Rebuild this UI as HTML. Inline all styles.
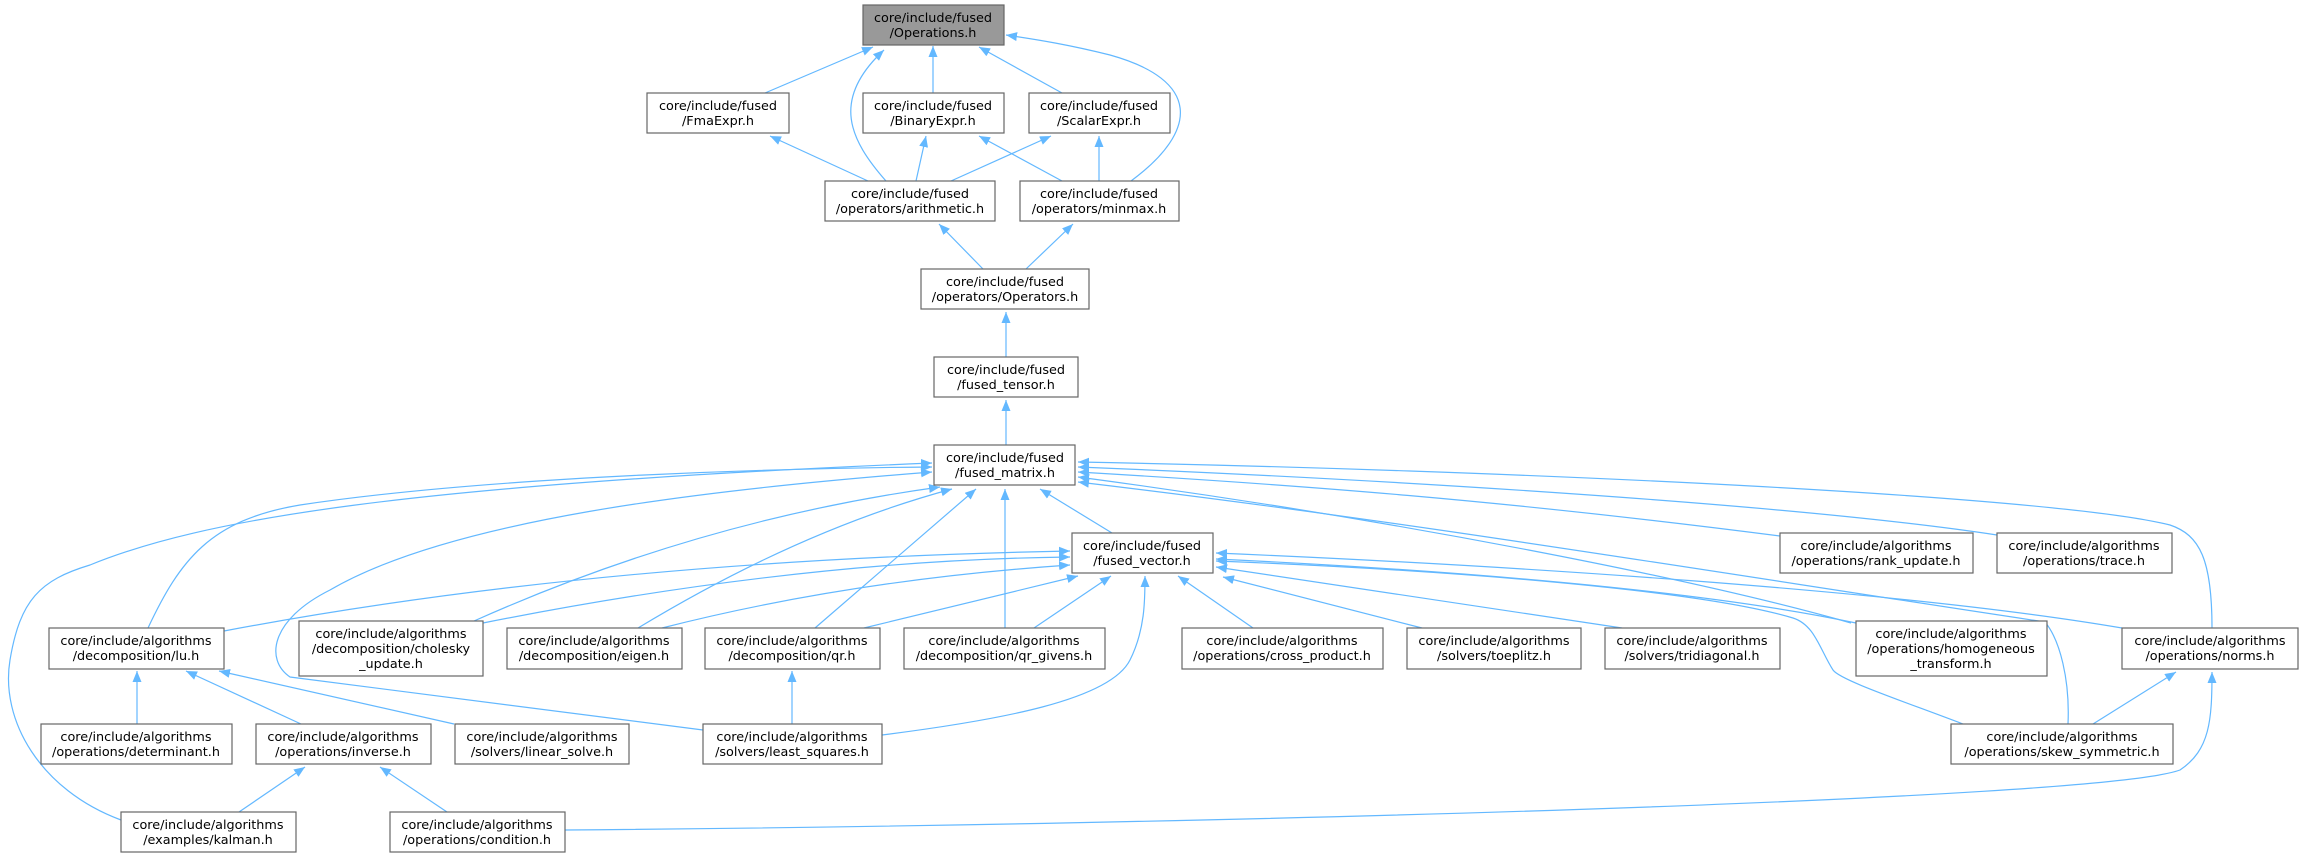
<!DOCTYPE html>
<html><head><meta charset="utf-8"><style>
html,body{margin:0;padding:0;background:#fff;}
svg{display:block;}
text{font-family:"DejaVu Sans","Liberation Sans",sans-serif;font-size:12.8px;fill:#000;text-anchor:middle;}
.b{fill:#fff;stroke:#666;stroke-width:1.2;}
.e{fill:none;stroke:#63b8ff;stroke-width:1.2;}
</style></head><body>
<svg width="2303" height="857" viewBox="0 0 2303 857" xmlns="http://www.w3.org/2000/svg">
<defs><marker id="a" markerUnits="userSpaceOnUse" markerWidth="12" markerHeight="10" refX="11" refY="4.5" orient="auto"><path d="M0,0 L11,4.5 L0,9 z" fill="#63b8ff"/></marker></defs>
<g class="e" marker-end="url(#a)">
<path d="M765,93 L873,47"/>
<path d="M886,181 C850,140 830,100 884,50"/>
<path d="M933,93 L933,46"/>
<path d="M1062,93 L979,47"/>
<path d="M1131,181 C1200,130 1200,80 1110,55 C1070,45 1040,40 1006,35"/>
<path d="M868,181 L770,136"/>
<path d="M916,181 L926,136"/>
<path d="M951,181 L1051,136"/>
<path d="M1062,181 L979,136"/>
<path d="M1099,181 L1099,136"/>
<path d="M983,269 L939,224"/>
<path d="M1026,269 L1073,224"/>
<path d="M1006,357 L1006,312"/>
<path d="M1006,445 L1006,400"/>
<path d="M148,628 C180,560 210,520 300,505 C500,475 800,468 932,467"/>
<path d="M121,820 C40,790 0,720 10,660 C20,600 40,580 90,565 C200,520 400,485 932,463"/>
<path d="M474,621 Q700,520 940,487"/>
<path d="M638,628 Q800,530 952,489"/>
<path d="M815,628 L976,489"/>
<path d="M703,730 L290,677 C265,660 270,620 330,590 C450,520 700,490 932,472"/>
<path d="M1005,628 L1005,489"/>
<path d="M1112,533 L1040,489"/>
<path d="M1851,623 C1700,580 1400,520 1078,477"/>
<path d="M1780,536 C1500,500 1300,485 1078,472"/>
<path d="M1997,535 C1800,505 1400,480 1078,467"/>
<path d="M2212,628 C2212,560 2200,535 2170,525 C2050,495 1500,470 1078,462"/>
<path d="M2068,724 C2070,680 2060,640 2045,622 C1700,570 1400,520 1078,482"/>
<path d="M224,631 Q600,560 1070,551"/>
<path d="M483,623 Q800,560 1070,557"/>
<path d="M662,628 Q850,580 1070,565"/>
<path d="M864,628 L1078,576"/>
<path d="M1034,628 L1111,576"/>
<path d="M882,735 C1000,720 1110,700 1130,660 C1145,630 1145,600 1145,576"/>
<path d="M1253,628 L1178,576"/>
<path d="M1422,628 L1223,577"/>
<path d="M1622,628 L1216,567"/>
<path d="M1856,623 C1700,590 1450,570 1216,559"/>
<path d="M2122,628 C1900,590 1500,565 1216,553"/>
<path d="M1963,724 C1900,700 1840,680 1833,670 C1820,650 1815,625 1793,618 C1700,590 1450,570 1216,561"/>
<path d="M137,724 L137,671"/>
<path d="M301,724 L186,671"/>
<path d="M454,724 L219,671"/>
<path d="M792,724 L792,671"/>
<path d="M239,812 L305,767"/>
<path d="M447,812 L380,767"/>
<path d="M2093,724 L2176,672"/>
<path d="M565,830 C1200,825 2100,800 2180,770 C2210,750 2212,720 2212,672"/>
</g>
<g>
<rect x="863" y="5" width="141" height="40" fill="#999" stroke="#666" stroke-width="1.2"/><text x="933" y="22">core/include/fused</text><text x="933" y="37">/Operations.h</text>
<rect class="b" x="647" y="93" width="142" height="40"/><text x="718" y="110">core/include/fused</text><text x="718" y="125">/FmaExpr.h</text>
<rect class="b" x="863" y="93" width="141" height="40"/><text x="933" y="110">core/include/fused</text><text x="933" y="125">/BinaryExpr.h</text>
<rect class="b" x="1029" y="93" width="141" height="40"/><text x="1099" y="110">core/include/fused</text><text x="1099" y="125">/ScalarExpr.h</text>
<rect class="b" x="825" y="181" width="170" height="40"/><text x="910" y="198">core/include/fused</text><text x="910" y="213">/operators/arithmetic.h</text>
<rect class="b" x="1020" y="181" width="159" height="40"/><text x="1099" y="198">core/include/fused</text><text x="1099" y="213">/operators/minmax.h</text>
<rect class="b" x="921" y="269" width="168" height="40"/><text x="1005" y="286">core/include/fused</text><text x="1005" y="301">/operators/Operators.h</text>
<rect class="b" x="934" y="357" width="144" height="40"/><text x="1006" y="374">core/include/fused</text><text x="1006" y="389">/fused_tensor.h</text>
<rect class="b" x="934" y="445" width="141" height="40"/><text x="1005" y="462">core/include/fused</text><text x="1005" y="477">/fused_matrix.h</text>
<rect class="b" x="1072" y="533" width="141" height="40"/><text x="1142" y="550">core/include/fused</text><text x="1142" y="565">/fused_vector.h</text>
<rect class="b" x="1780" y="533" width="193" height="40"/><text x="1876" y="550">core/include/algorithms</text><text x="1876" y="565">/operations/rank_update.h</text>
<rect class="b" x="1997" y="533" width="175" height="40"/><text x="2084" y="550">core/include/algorithms</text><text x="2084" y="565">/operations/trace.h</text>
<rect class="b" x="49" y="628" width="175" height="41"/><text x="136" y="645">core/include/algorithms</text><text x="136" y="660">/decomposition/lu.h</text>
<rect class="b" x="299" y="621" width="184" height="55"/><text x="391" y="638">core/include/algorithms</text><text x="391" y="653">/decomposition/cholesky</text><text x="391" y="668">_update.h</text>
<rect class="b" x="507" y="628" width="175" height="41"/><text x="594" y="645">core/include/algorithms</text><text x="594" y="660">/decomposition/eigen.h</text>
<rect class="b" x="705" y="628" width="175" height="41"/><text x="792" y="645">core/include/algorithms</text><text x="792" y="660">/decomposition/qr.h</text>
<rect class="b" x="904" y="628" width="201" height="41"/><text x="1004" y="645">core/include/algorithms</text><text x="1004" y="660">/decomposition/qr_givens.h</text>
<rect class="b" x="1182" y="628" width="201" height="41"/><text x="1282" y="645">core/include/algorithms</text><text x="1282" y="660">/operations/cross_product.h</text>
<rect class="b" x="1407" y="628" width="174" height="41"/><text x="1494" y="645">core/include/algorithms</text><text x="1494" y="660">/solvers/toeplitz.h</text>
<rect class="b" x="1605" y="628" width="175" height="41"/><text x="1692" y="645">core/include/algorithms</text><text x="1692" y="660">/solvers/tridiagonal.h</text>
<rect class="b" x="1856" y="621" width="191" height="55"/><text x="1951" y="638">core/include/algorithms</text><text x="1951" y="653">/operations/homogeneous</text><text x="1951" y="668">_transform.h</text>
<rect class="b" x="2122" y="628" width="176" height="41"/><text x="2210" y="645">core/include/algorithms</text><text x="2210" y="660">/operations/norms.h</text>
<rect class="b" x="41" y="724" width="191" height="40"/><text x="136" y="741">core/include/algorithms</text><text x="136" y="756">/operations/determinant.h</text>
<rect class="b" x="256" y="724" width="175" height="40"/><text x="343" y="741">core/include/algorithms</text><text x="343" y="756">/operations/inverse.h</text>
<rect class="b" x="455" y="724" width="174" height="40"/><text x="542" y="741">core/include/algorithms</text><text x="542" y="756">/solvers/linear_solve.h</text>
<rect class="b" x="703" y="724" width="179" height="40"/><text x="792" y="741">core/include/algorithms</text><text x="792" y="756">/solvers/least_squares.h</text>
<rect class="b" x="1951" y="724" width="222" height="40"/><text x="2062" y="741">core/include/algorithms</text><text x="2062" y="756">/operations/skew_symmetric.h</text>
<rect class="b" x="121" y="812" width="175" height="40"/><text x="208" y="829">core/include/algorithms</text><text x="208" y="844">/examples/kalman.h</text>
<rect class="b" x="390" y="812" width="175" height="40"/><text x="477" y="829">core/include/algorithms</text><text x="477" y="844">/operations/condition.h</text>
</g>
</svg>
</body></html>
